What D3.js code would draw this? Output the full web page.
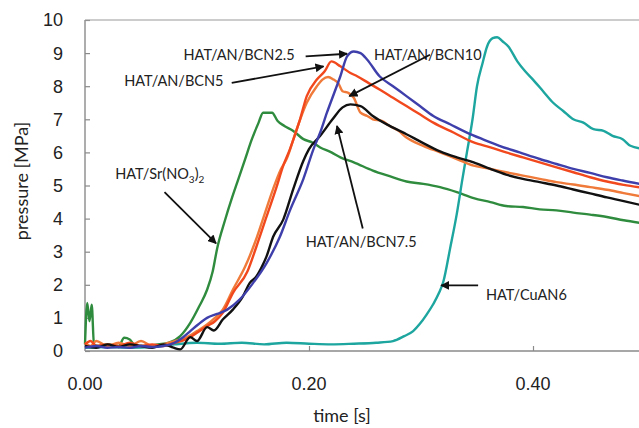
<!DOCTYPE html>
<html>
<head>
<meta charset="utf-8">
<script src="https://cdn.jsdelivr.net/npm/d3@7"></script>
<style>
  body { margin: 0; background: #fff; }
  svg { display: block; }
</style>
</head>
<body>
<div id="chart"></div>
<script>
// pressure traces, time in s, pressure in MPa
var tSr = [0, 0.002, 0.004, 0.006, 0.008, 0.012, 0.02, 0.03, 0.035, 0.04, 0.045, 0.055, 0.065, 0.075, 0.085, 0.094, 0.102, 0.109, 0.114, 0.118, 0.125, 0.131, 0.137, 0.143, 0.149, 0.155, 0.159, 0.167, 0.172, 0.178, 0.186, 0.195, 0.203, 0.21, 0.22, 0.228, 0.24, 0.257, 0.272, 0.287, 0.302, 0.317, 0.332, 0.347, 0.362, 0.376, 0.391, 0.406, 0.421, 0.436, 0.451, 0.466, 0.481, 0.5];
var pSr = [0.2, 1.45, 0.9, 1.4, 0.2, 0.15, 0.2, 0.15, 0.4, 0.35, 0.15, 0.15, 0.2, 0.25, 0.45, 0.85, 1.35, 1.85, 2.4, 3.1, 3.95, 4.6, 5.2, 5.8, 6.4, 6.9, 7.2, 7.2, 6.95, 6.8, 6.65, 6.4, 6.3, 6.15, 6.0, 5.85, 5.7, 5.45, 5.28, 5.12, 5.05, 4.95, 4.8, 4.62, 4.5, 4.38, 4.35, 4.28, 4.25, 4.18, 4.12, 4.05, 3.95, 3.85];

var tCu = [0, 0.02, 0.04, 0.06, 0.08, 0.1, 0.12, 0.14, 0.16, 0.18, 0.2, 0.22, 0.24, 0.26, 0.275, 0.285, 0.293, 0.299, 0.305, 0.311, 0.316, 0.32, 0.326, 0.332, 0.337, 0.341, 0.346, 0.35, 0.355, 0.359, 0.364, 0.368, 0.373, 0.378, 0.386, 0.393, 0.4, 0.409, 0.418, 0.427, 0.436, 0.445, 0.454, 0.463, 0.471, 0.48, 0.487, 0.5];
var pCu = [0.1, 0.12, 0.1, 0.12, 0.2, 0.25, 0.22, 0.25, 0.2, 0.25, 0.22, 0.2, 0.22, 0.25, 0.3, 0.45, 0.6, 0.82, 1.1, 1.42, 1.75, 2.1, 3.1, 4.15, 5.2, 6.0, 7.0, 8.0, 8.7, 9.2, 9.45, 9.48, 9.35, 9.2, 8.75, 8.45, 8.2, 7.85, 7.5, 7.25, 7.0, 6.9, 6.7, 6.65, 6.5, 6.4, 6.2, 6.1];

var tB25 = [0, 0.01, 0.02, 0.03, 0.04, 0.05, 0.06, 0.07, 0.08, 0.087, 0.094, 0.101, 0.109, 0.118, 0.127, 0.138, 0.15, 0.162, 0.174, 0.183, 0.195, 0.204, 0.21, 0.216, 0.222, 0.228, 0.234, 0.24, 0.246, 0.252, 0.263, 0.275, 0.287, 0.299, 0.311, 0.326, 0.341, 0.355, 0.37, 0.388, 0.406, 0.421, 0.436, 0.451, 0.466, 0.48, 0.5];
var pB25 = [0.1, 0.15, 0.1, 0.12, 0.1, 0.15, 0.12, 0.15, 0.25, 0.4, 0.6, 0.8, 1.0, 1.12, 1.25, 1.55, 2.05, 2.65, 3.45, 4.25, 5.2, 6.1, 6.6, 7.2, 7.75, 8.3, 8.9, 9.05, 9.0, 8.8, 8.3, 8.0, 7.7, 7.4, 7.1, 6.85, 6.6, 6.4, 6.2, 6.0, 5.8, 5.65, 5.5, 5.38, 5.25, 5.15, 5.02];

var tB5 = [0, 0.005, 0.01, 0.02, 0.03, 0.04, 0.05, 0.06, 0.07, 0.08, 0.09, 0.1, 0.109, 0.116, 0.123, 0.132, 0.145, 0.153, 0.162, 0.171, 0.177, 0.183, 0.192, 0.198, 0.207, 0.214, 0.22, 0.228, 0.237, 0.243, 0.253, 0.263, 0.275, 0.287, 0.299, 0.311, 0.329, 0.347, 0.362, 0.376, 0.391, 0.406, 0.421, 0.436, 0.451, 0.466, 0.481, 0.5];
var pB5 = [0.2, 0.3, 0.15, 0.2, 0.15, 0.25, 0.15, 0.2, 0.15, 0.25, 0.35, 0.55, 0.75, 0.9, 1.15, 1.75, 2.4, 3.15, 4.05, 4.95, 5.6, 6.1, 7.0, 7.7, 8.2, 8.45, 8.75, 8.6, 8.4, 8.3, 8.1, 7.9, 7.65, 7.4, 7.15, 6.9, 6.6, 6.3, 6.15, 6.0, 5.85, 5.7, 5.55, 5.4, 5.25, 5.12, 5.02, 4.92];

var tB10 = [0, 0.005, 0.01, 0.02, 0.03, 0.04, 0.05, 0.06, 0.07, 0.08, 0.09, 0.1, 0.109, 0.116, 0.123, 0.132, 0.143, 0.152, 0.16, 0.168, 0.175, 0.18, 0.189, 0.198, 0.207, 0.212, 0.217, 0.222, 0.226, 0.23, 0.235, 0.24, 0.246, 0.252, 0.257, 0.265, 0.272, 0.28, 0.287, 0.302, 0.317, 0.332, 0.347, 0.362, 0.376, 0.391, 0.406, 0.421, 0.436, 0.451, 0.466, 0.481, 0.5];
var pB10 = [0.25, 0.15, 0.3, 0.15, 0.25, 0.15, 0.3, 0.15, 0.2, 0.3, 0.4, 0.6, 0.8, 1.0, 1.25, 1.85, 2.55, 3.3, 4.1, 4.9, 5.5, 5.8, 6.7, 7.5, 8.0, 8.2, 8.28, 8.2, 8.1, 7.85, 7.8, 7.65, 7.2, 7.1, 7.0, 6.95, 6.8, 6.65, 6.45, 6.2, 6.0, 5.8, 5.6, 5.5, 5.4, 5.3, 5.2, 5.1, 5.03, 4.95, 4.87, 4.77, 4.65];

var tB75 = [0, 0.01, 0.02, 0.03, 0.04, 0.05, 0.06, 0.07, 0.079, 0.085, 0.094, 0.1, 0.109, 0.115, 0.123, 0.132, 0.141, 0.147, 0.153, 0.158, 0.162, 0.168, 0.177, 0.186, 0.195, 0.2, 0.21, 0.221, 0.23, 0.237, 0.246, 0.257, 0.272, 0.287, 0.302, 0.317, 0.332, 0.347, 0.362, 0.376, 0.391, 0.406, 0.421, 0.436, 0.451, 0.466, 0.481, 0.5];
var pB75 = [0.15, 0.1, 0.2, 0.12, 0.2, 0.15, 0.1, 0.2, 0.1, 0.05, 0.42, 0.3, 0.72, 0.62, 0.95, 1.25, 1.65, 2.05, 2.25, 2.55, 2.85, 3.45, 3.97, 4.9, 5.75, 6.1, 6.5, 7.0, 7.36, 7.45, 7.4, 7.1, 6.8, 6.55, 6.28, 6.03, 5.85, 5.7, 5.5, 5.33, 5.2, 5.1, 5.0, 4.88, 4.76, 4.64, 4.53, 4.38];

var xTicks = [0, 0.2, 0.4];
var yTicks = [0, 1, 2, 3, 4, 5, 6, 7, 8, 9, 10];

var labels = ["HAT/AN/BCN2.5", "HAT/AN/BCN5", "HAT/AN/BCN10", "HAT/AN/BCN7.5", "HAT/Sr(NO3)2", "HAT/CuAN6"];

var series = [
    {t: tSr, p: pSr, color: "#2f8c3e"},
    {t: tCu, p: pCu, color: "#1da59f"},
    {t: tB10, p: pB10, color: "#ef7a3a"},
    {t: tB5, p: pB5, color: "#f2481d"},
    {t: tB75, p: pB75, color: "#111111"},
    {t: tB25, p: pB25, color: "#3f3fab"}
];

var W = 639, H = 428;
var margin = {top: 20, right: -6, bottom: 77, left: 85};

var svg = d3.select("#chart").append("svg")
    .attr("width", W)
    .attr("height", H);

var x = d3.scaleLinear().domain([0, 0.5]).range([margin.left, W - margin.right]);
var y = d3.scaleLinear().domain([0, 10]).range([H - margin.bottom, margin.top]);

svg.append("defs").append("marker")
    .attr("id", "arr")
    .attr("viewBox", "0 0 10 10")
    .attr("refX", 9).attr("refY", 5)
    .attr("markerWidth", 5).attr("markerHeight", 5)
    .attr("markerUnits", "strokeWidth")
    .attr("orient", "auto")
  .append("path")
    .attr("d", "M0,0L10,5L0,10z")
    .attr("fill", "#111");

// axes, ticks point into the plot
var yAxis = svg.append("g")
    .attr("transform", "translate(" + margin.left + ",0)")
    .call(d3.axisRight(y).tickValues(yTicks).tickSize(5).tickFormat(""));
var xAxis = svg.append("g")
    .attr("transform", "translate(0," + y(0) + ")")
    .call(d3.axisTop(x).tickValues(xTicks.slice(1)).tickSize(5).tickFormat(""));
svg.selectAll(".domain").remove();
svg.selectAll(".tick line").attr("stroke", "#8a8a8a").attr("stroke-width", 1.2);

svg.append("line")
    .attr("x1", x(0)).attr("x2", x(0))
    .attr("y1", y(10)).attr("y2", y(0))
    .attr("stroke", "#8a8a8a").attr("stroke-width", 1.4);
svg.append("line")
    .attr("x1", x(0)).attr("x2", W)
    .attr("y1", y(0)).attr("y2", y(0))
    .attr("stroke", "#8a8a8a").attr("stroke-width", 1.4);
svg.append("line")
    .attr("x1", x(0)).attr("x2", W)
    .attr("y1", y(10)).attr("y2", y(10))
    .attr("stroke", "#9a9a9a").attr("stroke-width", 1.2);

svg.selectAll(".ylab")
    .data(yTicks)
    .enter().append("text")
    .attr("x", 63)
    .attr("y", function(d) { return y(d); })
    .attr("dy", "0.36em")
    .attr("text-anchor", "end")
    .attr("font-family", "Liberation Sans, Arial, sans-serif")
    .attr("font-size", "18px")
    .attr("fill", "#222")
    .text(function(d) { return d; });

svg.selectAll(".xlab")
    .data(xTicks)
    .enter().append("text")
    .attr("x", function(d) { return x(d); })
    .attr("y", 390)
    .attr("text-anchor", "middle")
    .attr("font-family", "Liberation Sans, Arial, sans-serif")
    .attr("font-size", "18px")
    .attr("fill", "#222")
    .text(function(d) { return d.toFixed(2); });

// axis titles
svg.append("text")
    .attr("transform", "rotate(-90)")
    .attr("x", -181)
    .attr("y", 28)
    .attr("text-anchor", "middle")
    .attr("font-family", "Lato, sans-serif")
    .attr("font-size", "18px")
    .attr("fill", "#222")
    .text("pressure [MPa]");

svg.append("text")
    .attr("x", 342)
    .attr("y", 422)
    .attr("text-anchor", "middle")
    .attr("font-family", "Lato, sans-serif")
    .attr("font-size", "18px")
    .attr("fill", "#222")
    .text("time [s]");

// traces
var line = d3.line()
    .x(function(d) { return x(d[0]); })
    .y(function(d) { return y(d[1]); })
    .curve(d3.curveMonotoneX);

svg.selectAll(".trace")
    .data(series)
    .enter().append("path")
    .attr("class", "trace")
    .attr("d", function(s) { return line(d3.zip(s.t, s.p)); })
    .attr("fill", "none")
    .attr("stroke", function(s) { return s.color; })
    .attr("stroke-width", 2.4)
    .attr("stroke-linejoin", "round");

// annotations: text position, then arrow from a -> b, all in data units
var notes = [
    {text: labels[0], lx: 0.088, ly: 8.8, a: [0.197, 8.9], b: [0.234, 8.98]},
    {text: labels[1], lx: 0.035, ly: 8.0, a: [0.131, 8.1], b: [0.213, 8.6]},
    {text: labels[2], lx: 0.258, ly: 8.8, a: [0.308, 8.95], b: [0.236, 7.7]},
    {text: labels[3], lx: 0.197, ly: 3.15, a: [0.248, 3.7], b: [0.225, 6.8]},
    {text: labels[5], lx: 0.358, ly: 1.55, a: [0.351, 1.98], b: [0.318, 1.98]}
];

var g = svg.append("g").attr("font-family", "Lato, sans-serif").attr("font-size", "14.5px").attr("fill", "#222");

notes.forEach(function(n) {
    g.append("text")
        .attr("x", x(n.lx))
        .attr("y", y(n.ly))
        .text(n.text);
    svg.append("line")
        .attr("x1", x(n.a[0])).attr("y1", y(n.a[1]))
        .attr("x2", x(n.b[0])).attr("y2", y(n.b[1]))
        .attr("stroke", "#111")
        .attr("stroke-width", 1.8)
        .attr("marker-end", "url(#arr)");
});

// Sr(NO3)2 label needs subscripts
var sr = g.append("text")
    .attr("x", x(0.027))
    .attr("y", y(5.2));
sr.append("tspan").text("HAT/Sr(NO");
sr.append("tspan").attr("font-size", "10px").attr("dy", 4).text("3");
sr.append("tspan").attr("dy", -4).text(")");
sr.append("tspan").attr("font-size", "10px").attr("dy", 4).text("2");
svg.append("line")
    .attr("x1", x(0.071)).attr("y1", y(4.8))
    .attr("x2", x(0.117)).attr("y2", y(3.25))
    .attr("stroke", "#111")
    .attr("stroke-width", 1.8)
    .attr("marker-end", "url(#arr)");
</script>
</body>
</html>
